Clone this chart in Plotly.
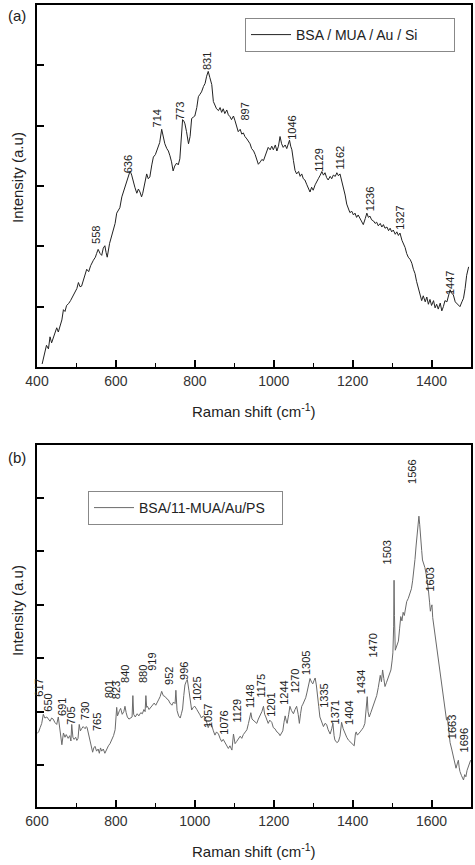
import plotly.graph_objects as go

# ---------------- Panel (a): BSA / MUA / Au / Si ----------------
wn_a = [413, 418, 424, 429, 433, 437, 441, 446, 450, 454, 458, 463, 467, 471, 475, 480, 485, 492, 497, 501,
        505, 509, 513, 518, 522, 526, 531, 536, 543, 548, 551, 555, 560, 564, 568, 572, 575, 578, 584, 589,
        594, 598, 602, 606, 610, 615, 619, 623, 628, 632, 636, 640, 644, 648, 653, 657, 661, 665, 668, 673,
        678, 682, 686, 691, 695, 700, 707, 711, 716, 720, 724, 729, 733, 737, 741, 745, 749, 754, 758, 762,
        766, 769, 772, 775, 779, 784, 788, 792, 796, 800, 805, 809, 813, 817, 822, 826, 830, 834, 838, 843,
        847, 851, 855, 860, 864, 868, 872, 876, 881, 885, 889, 893, 898, 902, 906, 910, 915, 919, 923, 927,
        932, 936, 940, 944, 949, 953, 957, 961, 966, 970, 974, 978, 982, 986, 991, 995, 999, 1004, 1008, 1012,
        1016, 1020, 1024, 1029, 1033, 1037, 1040, 1043, 1046, 1050, 1054, 1058, 1063, 1067, 1071, 1075, 1079,
        1084, 1088, 1092, 1096, 1100, 1105, 1109, 1113, 1118, 1122, 1126, 1130, 1134, 1138, 1143, 1147, 1151,
        1156, 1160, 1164, 1168, 1172, 1177, 1181, 1185, 1189, 1193, 1198, 1202, 1206, 1210, 1214, 1219, 1223,
        1227, 1232, 1236, 1240, 1244, 1248, 1253, 1257, 1261, 1265, 1270, 1274, 1278, 1282, 1287, 1291, 1295,
        1299, 1303, 1308, 1312, 1316, 1320, 1325, 1329, 1333, 1337, 1341, 1346, 1350, 1354, 1358, 1362, 1367,
        1371, 1375, 1379, 1384, 1388, 1392, 1396, 1400, 1405, 1409, 1413, 1417, 1422, 1426, 1430, 1434, 1439,
        1443, 1447, 1451, 1455, 1460, 1464, 1468, 1472, 1477, 1481, 1485, 1489, 1494]
int_a = [0.05, 0.22, 0.36, 0.30, 0.50, 0.40, 0.47, 0.56, 0.65, 0.58, 0.66, 0.78, 0.95, 0.92, 1.02, 1.05, 1.10, 1.18, 1.25, 1.30,
         1.40, 1.33, 1.34, 1.45, 1.52, 1.62, 1.58, 1.68, 1.77, 1.82, 1.88, 1.95, 1.88, 1.85, 1.97, 2.01, 1.90, 1.82, 2.05, 2.16,
         2.25, 2.38, 2.55, 2.60, 2.64, 2.82, 2.90, 3.00, 3.10, 3.18, 3.25, 3.18, 3.10, 2.98, 2.88, 2.95, 2.90, 2.82, 2.88, 3.05,
         3.20, 3.12, 3.15, 3.35, 3.48, 3.52, 3.65, 3.72, 3.94, 3.82, 3.70, 3.62, 3.58, 3.50, 3.40, 3.25, 3.33, 3.38, 3.35, 3.45,
         3.85, 4.10, 4.08, 4.03, 3.90, 3.70, 3.82, 4.12, 4.14, 4.16, 4.30, 4.48, 4.52, 4.56, 4.65, 4.70, 4.82, 4.90, 4.80, 4.68,
         4.40, 4.35, 4.28, 4.25, 4.30, 4.22, 4.28, 4.20, 4.26, 4.18, 4.15, 4.10, 4.16, 4.08, 3.98, 3.90, 3.94, 3.86, 3.88, 3.82,
         3.78, 3.74, 3.70, 3.62, 3.58, 3.52, 3.42, 3.36, 3.40, 3.44, 3.42, 3.50, 3.56, 3.64, 3.60, 3.66, 3.60, 3.68, 3.58, 3.66,
         3.82, 3.70, 3.64, 3.68, 3.62, 3.70, 3.76, 3.66, 3.60, 3.42, 3.26, 3.20, 3.24, 3.16, 3.20, 3.12, 3.10,
         3.02, 2.96, 2.90, 2.98, 2.93, 3.02, 3.06, 3.12, 3.18, 3.24, 3.18, 3.22, 3.14, 3.10, 3.16, 3.12, 3.18,
         3.16, 3.22, 3.17, 3.20, 3.10, 2.95, 2.85, 2.70, 2.62, 2.56, 2.58, 2.52, 2.55, 2.48, 2.52, 2.45, 2.40,
         2.36, 2.46, 2.55, 2.48, 2.50, 2.44, 2.42, 2.38, 2.40, 2.34, 2.38, 2.32, 2.36, 2.30, 2.32, 2.26, 2.30,
         2.24, 2.27, 2.20, 2.24, 2.18, 2.22, 2.10, 2.05, 1.98, 1.88, 1.82, 1.78, 1.72, 1.62, 1.55, 1.42, 1.30,
         1.20, 1.10, 1.18, 1.08, 1.16, 1.04, 1.12, 1.02, 1.10, 0.98, 1.04, 0.96, 1.06, 0.93, 1.00, 1.10, 1.08,
         1.18, 1.28, 1.22, 1.20, 1.08, 1.05, 1.02, 1.00, 1.08, 1.14, 1.30, 1.52, 1.66]

peak_text_a = ["558", "636", "714", "773", "831", "897", "1046", "1129", "1162", "1236", "1327", "1447"]
peak_x_a = [551, 631, 703, 762, 831, 927, 1046, 1116, 1168, 1244, 1320, 1447]
peak_y_a = [2.00, 3.18, 3.93, 4.06, 4.89, 4.05, 3.73, 3.21, 3.24, 2.55, 2.24, 1.16]

# ---------------- Panel (b): BSA/11-MUA/Au/PS ----------------
wn_b = [600, 604, 608, 612, 616, 620, 625, 629, 633, 637, 641, 645, 650, 654, 657, 660, 663, 667, 671, 674,
        679, 683, 686, 688, 691, 694, 698, 701, 704, 707, 710, 713, 717, 722, 725, 727, 730, 734, 738, 741,
        744, 747, 751, 755, 758, 761, 764, 768, 772, 776, 781, 785, 789, 794, 798, 802, 804, 806, 809, 812,
        816, 820, 823, 826, 829, 833, 838, 841, 843, 845, 849, 854, 858, 863, 867, 871, 874, 876, 878, 880,
        884, 888, 892, 897, 901, 905, 908, 912, 916, 920, 925, 929, 933, 937, 942, 946, 950, 952, 955, 959,
        963, 966, 969, 972, 975, 978, 981, 985, 989, 992, 996, 1000, 1005, 1009, 1013, 1017, 1021, 1026, 1030, 1034,
        1038, 1043, 1047, 1051, 1055, 1060, 1064, 1068, 1072, 1077, 1081, 1085, 1089, 1094, 1098, 1102, 1106, 1111,
        1115, 1119, 1123, 1128, 1132, 1136, 1140, 1142, 1145, 1148, 1152, 1157, 1161, 1165, 1170, 1174, 1177, 1180,
        1183, 1186, 1190, 1195, 1199, 1203, 1208, 1212, 1216, 1220, 1223, 1226, 1229, 1232, 1234, 1238, 1241, 1245,
        1250, 1254, 1258, 1262, 1265, 1268, 1271, 1274, 1277, 1281, 1284, 1288, 1292, 1296, 1299, 1302, 1305, 1308,
        1311, 1314, 1317, 1321, 1326, 1330, 1334, 1338, 1343, 1347, 1350, 1353, 1355, 1360, 1364, 1368, 1372, 1376,
        1381, 1385, 1389, 1393, 1398, 1402, 1404, 1407, 1409, 1412, 1415, 1419, 1423, 1427, 1431, 1434, 1437, 1439,
        1442, 1446, 1451, 1456, 1461, 1465, 1468, 1470, 1473, 1476, 1479, 1482, 1486, 1491, 1494, 1497, 1500, 1502,
        1504, 1505, 1506, 1508, 1512, 1516, 1519, 1522, 1525, 1528, 1531, 1534, 1537, 1541, 1546, 1549, 1552, 1555,
        1558, 1561, 1564, 1566, 1568, 1570, 1573, 1575, 1577, 1580, 1583, 1587, 1590, 1592, 1595, 1597, 1599, 1601,
        1603, 1605, 1609, 1613, 1617, 1621, 1625, 1630, 1634, 1638, 1640, 1643, 1647, 1651, 1655, 1659, 1662, 1665,
        1668, 1670, 1672, 1676, 1681, 1684, 1687, 1690, 1693, 1696, 1699]
int_b = [0.59, 0.62, 0.70, 0.78, 0.95, 0.88, 0.90, 0.85, 0.82, 0.88, 0.86, 0.80, 0.76, 0.90, 0.70, 0.55, 0.38, 0.60, 0.52, 0.57,
         0.50, 0.55, 0.45, 0.76, 0.52, 0.48, 0.52, 0.46, 0.50, 0.76, 0.64, 0.68, 0.72, 0.68, 0.72, 0.70, 0.60, 0.46, 0.36, 0.24,
         0.32, 0.35, 0.26, 0.30, 0.22, 0.32, 0.26, 0.30, 0.22, 0.30, 0.36, 0.40, 0.46, 0.55, 0.66, 1.08, 0.92, 0.98, 1.02, 1.06,
         0.95, 1.00, 1.10, 0.98, 0.90, 0.86, 0.88, 0.90, 1.30, 0.95, 0.90, 0.96, 0.92, 0.98, 0.96, 1.04, 1.00, 1.30, 1.08, 1.10,
         1.04, 1.08, 1.12, 1.16, 1.12, 1.20, 1.22, 1.28, 1.38, 1.30, 1.28, 1.24, 1.22, 1.16, 1.12, 1.18, 1.15, 1.40, 1.02, 0.92,
         0.88, 0.96, 1.05, 1.30, 1.50, 1.56, 1.60, 1.40, 1.15, 1.03, 1.08, 1.10, 1.04, 1.00, 0.94, 0.88, 0.92, 0.90, 0.80, 0.70,
         0.78, 0.74, 0.64, 0.56, 0.62, 0.58, 0.50, 0.44, 0.48, 0.41, 0.36, 0.31, 0.36, 0.28, 0.58, 0.40, 0.44, 0.50,
         0.54, 0.50, 0.57, 0.62, 0.66, 0.78, 0.90, 0.98, 0.86, 0.84, 0.80, 0.78, 0.86, 0.92, 1.00, 1.10, 0.95, 0.90,
         0.82, 0.78, 0.84, 0.80, 0.70, 0.68, 0.62, 0.60, 0.55, 0.60, 0.64, 0.80, 0.92, 0.82, 0.78, 0.95, 1.10, 1.02,
         0.96, 1.04, 1.10, 0.95, 0.78, 0.96, 1.10, 1.14, 1.18, 1.26, 1.35, 1.48, 1.62, 1.55, 1.52, 1.58, 1.63, 1.50,
         1.34, 1.10, 0.90, 0.80, 0.72, 0.78, 0.76, 0.66, 0.58, 0.68, 0.78, 0.55, 0.47, 0.42, 0.44, 0.54, 0.80, 0.68,
         0.58, 0.52, 0.47, 0.44, 0.41, 0.38, 0.36, 0.58, 0.62, 0.56, 0.58, 0.62, 0.66, 0.70, 0.78, 1.00, 1.28, 1.00,
         0.90, 0.98, 1.08, 1.18, 1.30, 1.45, 1.62, 1.68, 1.56, 1.78, 1.62, 1.47, 1.55, 1.66, 1.72, 1.78, 1.95, 2.10,
         2.60, 3.46, 2.80, 2.15, 2.22, 2.32, 2.55, 2.78, 2.70, 2.86, 2.80, 2.96, 3.06, 3.12, 3.22, 3.30, 3.45, 3.62,
         3.85, 4.12, 4.40, 4.55, 4.66, 4.50, 4.28, 4.02, 3.84, 3.78, 3.70, 3.55, 3.40, 3.28, 3.05, 2.88, 2.95, 3.00,
         2.76, 2.65, 2.45, 2.22, 1.98, 1.75, 1.50, 1.22, 1.02, 0.84, 0.90, 0.62, 0.42, 0.30, 0.16, 0.05, -0.06, 0.02,
         0.09, -0.04, -0.12, -0.20, -0.28, -0.18, -0.22, -0.10, -0.03, 0.02, 0.09]

peak_text_b = ["617", "650", "691", "705", "730", "765", "801", "823", "840", "880", "919", "952", "996", "1025",
               "1057", "1076", "1129", "1148", "1175", "1201", "1244", "1270", "1305", "1335", "1371", "1404",
               "1434", "1470", "1503", "1566", "1603", "1663", "1696"]
peak_x_b = [606, 629, 663, 684, 722, 751, 781, 802, 823, 869, 893, 933, 973, 1005, 1034, 1074, 1106, 1140,
            1167, 1191, 1226, 1254, 1282, 1327, 1355, 1389, 1420, 1451, 1486, 1552, 1596, 1651, 1681]
peak_y_b = [1.25, 0.97, 0.88, 0.72, 0.81, 0.59, 1.22, 1.19, 1.50, 1.50, 1.72, 1.47, 1.56, 1.16, 0.66, 0.53,
            0.75, 1.03, 1.22, 0.87, 1.09, 1.31, 1.65, 1.03, 0.72, 0.72, 1.28, 1.97, 3.71, 5.22, 3.21, 0.44, 0.19]

FONT = "Liberation Sans, Arial, sans-serif"
W, H = 475, 865

def px(x):
    return x / W

def py(y):
    return 1 - y / H

fig = go.Figure()
fig.add_trace(go.Scatter(x=wn_a, y=int_a, mode="lines", name="BSA / MUA / Au / Si",
                         line=dict(color="#222222", width=1), xaxis="x", yaxis="y", legend="legend"))
fig.add_trace(go.Scatter(x=wn_b, y=int_b, mode="lines", name="BSA/11-MUA/Au/PS",
                         line=dict(color="#6a6a6a", width=1), xaxis="x2", yaxis="y2", legend="legend2"))

ann = []
for t, x, y in zip(peak_text_a, peak_x_a, peak_y_a):
    ann.append(dict(x=x, y=y, xref="x", yref="y", text=t, textangle=-90, showarrow=False,
                    xanchor="center", yanchor="bottom", font=dict(family=FONT, size=11, color="#222")))
for t, x, y in zip(peak_text_b, peak_x_b, peak_y_b):
    ann.append(dict(x=x, y=y, xref="x2", yref="y2", text=t, textangle=-90, showarrow=False,
                    xanchor="center", yanchor="bottom", font=dict(family=FONT, size=11, color="#222")))

# panel labels and axis titles
def label(x, y, text, angle=0):
    return dict(x=px(x), y=py(y), xref="paper", yref="paper", text=text, textangle=angle,
                showarrow=False, xanchor="center", yanchor="middle",
                font=dict(family=FONT, size=15, color="#222"))

ann += [
    label(17, 15, "(a)"),
    label(17, 458, "(b)"),
    label(17, 178, "Intensity (a.u)", -90),
    label(17, 611, "Intensity (a.u)", -90),
    label(254, 410, "Raman shift (cm<sup>-1</sup>)"),
    label(254, 850, "Raman shift (cm<sup>-1</sup>)"),
]

xcommon = dict(showline=True, linewidth=2, linecolor="black", mirror=True, showgrid=False, zeroline=False,
               ticks="inside", ticklen=7, tickwidth=1.5, tickcolor="black", automargin=False,
               tickfont=dict(family=FONT, size=14, color="#333"),
               minor=dict(ticks="inside", ticklen=4, tickwidth=1.2, tickcolor="black", dtick=100, showgrid=False),
               domain=[px(37), px(471)])
ycommon = dict(showline=True, linewidth=2, linecolor="black", mirror=True, showgrid=False, zeroline=False,
               ticks="inside", ticklen=7, tickwidth=1.5, tickcolor="black", showticklabels=False,
               automargin=False, tick0=0, dtick=1)

legend_common = dict(xanchor="left", yanchor="top", bordercolor="#888", borderwidth=1, bgcolor="white",
                     orientation="h", itemwidth=40, entrywidthmode="pixels",
                     font=dict(family=FONT, size=14, color="#222"))

fig.update_layout(
    width=W, height=H,
    margin=dict(l=0, r=0, t=0, b=0, autoexpand=False),
    paper_bgcolor="white", plot_bgcolor="white",
    font=dict(family=FONT, color="#333"),
    xaxis=dict(xcommon, range=[400, 1500], tick0=400, dtick=200, anchor="y"),
    yaxis=dict(ycommon, range=[0, 6.0], domain=[py(367), py(5)], anchor="x"),
    xaxis2=dict(xcommon, range=[600, 1700], tick0=600, dtick=200, anchor="y2"),
    yaxis2=dict(ycommon, range=[-0.786, 5.993], domain=[py(807), py(445)], anchor="x2"),
    legend=dict(legend_common, x=px(245), y=py(18), entrywidth=153),
    legend2=dict(legend_common, x=px(88), y=py(491), entrywidth=138),
    annotations=ann,
    showlegend=True,
)

fig.write_html("out.html")
